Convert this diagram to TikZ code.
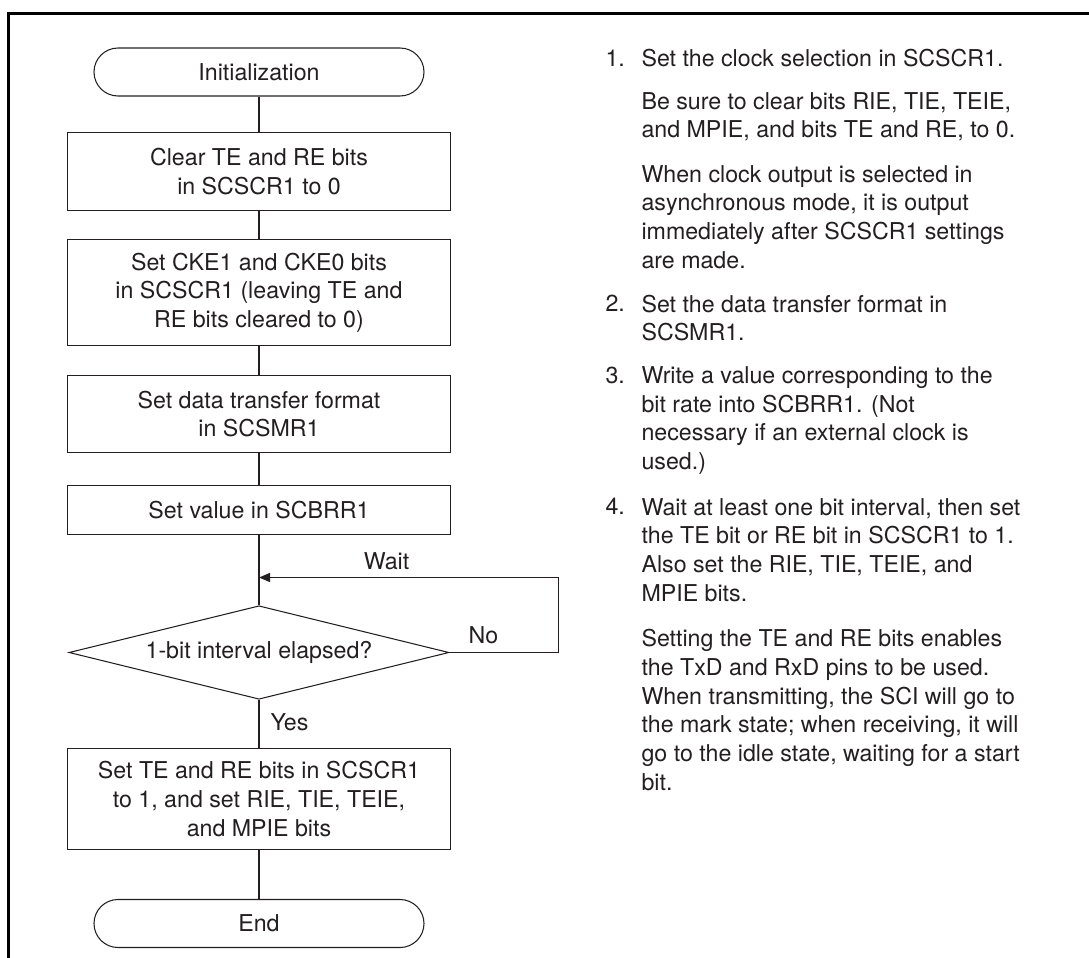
\documentclass[tikz,border=0pt]{standalone}
\usepackage{fontspec}
\setmainfont{TeX Gyre Heros}
\usetikzlibrary{arrows.meta, shapes.geometric}
\definecolor{cink}{HTML}{231F20}
\tikzset{
  every picture/.style={line width=0.6pt, color=cink},
  every node/.style={font=\fontsize{13.2}{16.3}\selectfont},
  term/.style={draw, rounded corners=0.48cm, minimum width=6.6cm, minimum height=0.96cm, inner sep=0pt},
  proc/.style={draw, align=center, minimum width=7.67cm, inner sep=0pt},
  dec/.style={draw, diamond, aspect=4, minimum width=7.6cm, minimum height=1.87cm, inner sep=0pt},
  back/.style={-{Triangle[length=2.2mm, width=1.8mm]}},
  lbl/.style={anchor=base, inner sep=0pt},
  note/.style={anchor=base west, align=left, inner sep=0pt},
  num/.style={anchor=base west, inner sep=0pt},
  outline/.style={line width=1.5pt, black},
}
\begin{document}
\begin{tikzpicture}
  \useasboundingbox (0,0) rectangle (21.78,-19.16);
  \draw[outline] (0.17,-19.16) |- (21.78,-0.27);
  % flow chart
  \node[term] (init) at (5.18,-1.44) {Initialization};
  \node[proc, minimum height=1.55cm] (clr) at (5.18,-3.43) {Clear TE and RE bits\\in SCSCR1 to 0};
  \node[proc, minimum height=2.13cm] (cke) at (5.18,-5.85) {Set CKE1 and CKE0 bits\\in SCSCR1 (leaving TE and\\RE bits cleared to 0)};
  \node[proc, minimum height=1.55cm] (fmt) at (5.18,-8.28) {Set data transfer format\\in SCSMR1};
  \node[proc, minimum height=0.97cm] (brr) at (5.18,-10.20) {Set value in SCBRR1};
  \node[dec] (elap) at (5.18,-13.05) {1-bit interval elapsed?};
  \node[proc, minimum height=2.02cm] (ena) at (5.18,-15.98) {Set TE and RE bits in SCSCR1\\to 1, and set RIE, TIE, TEIE,\\and MPIE bits};
  \node[term] (stop) at (5.18,-18.47) {End};
  \coordinate (join) at (5.18,-11.55);
  \coordinate (turn) at (11.17,-11.55);
  \draw (init) -- (clr);
  \draw (clr) -- (cke);
  \draw (cke) -- (fmt);
  \draw (fmt) -- (brr);
  \draw (brr) -- (elap);
  \draw (elap) -- (ena);
  \draw (ena) -- (stop);
  \draw[back] (elap.east) -| (turn) -- (join);
  \node[lbl] (wait) at (7.73,-11.38) {Wait};
  \node[lbl] (no) at (9.67,-12.86) {No};
  \node[num] (yes) at (5.40,-14.60) {Yes};
  % notes (multi-line nodes sit on their last baseline)
  \node[num] (n1) at (12.1,-1.32) {1.};
  \node[note] (t1) at (12.82,-1.32) {Set the clock selection in SCSCR1.};
  \node[note] (t1b) at (12.82,-2.754) {Be sure to clear bits RIE, TIE, TEIE,\\and MPIE, and bits TE and RE, to 0.};
  \node[note] (t1c) at (12.82,-5.36) {When clock output is selected in\\asynchronous mode, it is output\\immediately after SCSCR1 settings\\are made.};
  \node[num] (n2) at (12.1,-6.23) {2.};
  \node[note] (t2) at (12.82,-6.814) {Set the data transfer format in\\SCSMR1.};
  \node[num] (n3) at (12.1,-7.67) {3.};
  \node[note] (t3) at (12.82,-9.39) {Write a value corresponding to the\\bit rate into SCBRR1. (Not\\necessary if an external clock is\\used.)};
  \node[num] (n4) at (12.1,-10.28) {4.};
  \node[note] (t4) at (12.82,-12.02) {Wait at least one bit interval, then set\\the TE bit or RE bit in SCSCR1 to 1.\\Also set the RIE, TIE, TEIE, and\\MPIE bits.};
  \node[note] (t4b) at (12.82,-15.80) {Setting the TE and RE bits enables\\the TxD and RxD pins to be used.\\When transmitting, the SCI will go to\\the mark state; when receiving, it will\\go to the idle state, waiting for a start\\bit.};
\end{tikzpicture}
\end{document}
